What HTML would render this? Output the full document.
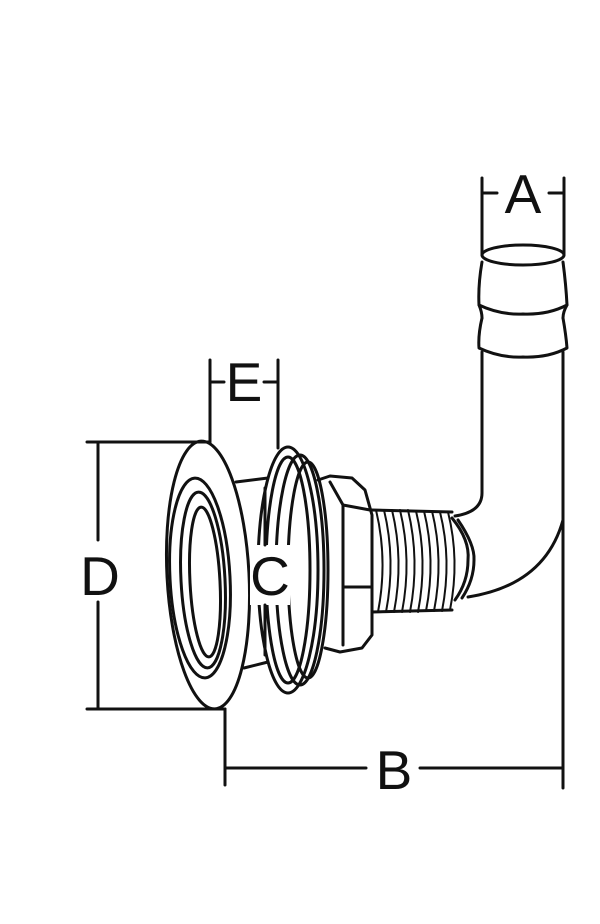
<!DOCTYPE html>
<html><head><meta charset="utf-8"><style>
html,body{margin:0;padding:0;background:#fff;}
svg{display:block}
text{font-family:"Liberation Sans",sans-serif;font-size:55px;fill:#111;text-anchor:middle}
</style></head><body>
<svg width="600" height="924" viewBox="0 0 600 924" xmlns="http://www.w3.org/2000/svg">
<g fill="none" stroke="#111" stroke-width="3" stroke-linecap="round" stroke-linejoin="round">
<!-- A dimension -->
<line x1="482" y1="178" x2="482" y2="255"/>
<line x1="564" y1="178" x2="564" y2="255"/>
<line x1="482" y1="193" x2="497" y2="193"/>
<line x1="549" y1="193" x2="564" y2="193"/>
<!-- hose barb -->
<ellipse cx="523" cy="255" rx="41" ry="10"/>
<path d="M482 262 Q478 285 479 305 Q500 315 523 314 Q548 315 567 305 Q566 285 563 262"/>
<path d="M482 318 Q478 335 479 348 Q500 358 523 357 Q548 358 567 348 Q566 335 563 318"/>
<path d="M479 305 Q482 312 482 318 M567 305 Q563 312 563 318"/>
<!-- pipe -->
<path d="M482 352 L482 493 Q482 512 455 516"/>
<path d="M563 352 L563 788"/>
<path d="M563 520 Q545 585 468 597"/>
<!-- thread end ring -->
<path d="M452 518 Q470 540 468 560 Q468 582 455 600"/>
<path d="M458 520 Q475 545 474 560 Q474 580 462 598"/>
<!-- threads -->
<path d="M372 510 L452 512 M372 612 L452 610"/>
<g stroke-width="2">
<path d="M376 510 Q388 560 378 612"/><path d="M384 510 Q396 560 386 612"/><path d="M392 510 Q404 560 394 612"/>
<path d="M400 510 Q412 560 402 612"/><path d="M408 510 Q420 560 410 612"/><path d="M416 511 Q428 560 418 612"/>
<path d="M424 511 Q436 560 426 611"/><path d="M432 511 Q444 560 434 611"/><path d="M440 512 Q452 560 442 611"/>
<path d="M448 512 Q460 560 450 610"/>
</g>
<!-- hex nut -->
<path d="M318 480 L330 476 L352 478 L365 490 L372 515 L372 635 L362 648 L340 652 L325 648"/>
<path d="M330 482 L343 505 L343 645"/>
<path d="M343 505 L370 510"/>
<path d="M343 587 L372 587"/>
<!-- washer rings -->
<ellipse cx="288" cy="570" rx="30" ry="123"/>
<ellipse cx="288" cy="570" rx="22" ry="113"/>
<ellipse cx="300" cy="570" rx="24" ry="115"/>
<ellipse cx="308" cy="570" rx="20" ry="108"/>
<!-- body cylinder -->
<path d="M236 482 L268 478"/>
<path d="M244 668 L268 662"/>
<!-- flange -->
<ellipse cx="208" cy="575" rx="41" ry="134" transform="rotate(-3 208 575)"/>
<ellipse cx="200" cy="578" rx="30" ry="100" transform="rotate(-3 200 578)"/>
<ellipse cx="203" cy="580" rx="22" ry="88" transform="rotate(-3 203 580)"/>
<ellipse cx="205" cy="582" rx="15" ry="75" transform="rotate(-3 205 582)"/>
<!-- E dimension -->
<line x1="210" y1="360" x2="210" y2="442"/>
<line x1="278" y1="360" x2="278" y2="448"/>
<line x1="210" y1="382" x2="224" y2="382"/>
<line x1="264" y1="382" x2="278" y2="382"/>
<!-- D dimension -->
<line x1="87" y1="442" x2="210" y2="442"/>
<line x1="87" y1="709" x2="225" y2="709"/>
<line x1="98" y1="442" x2="98" y2="540"/>
<line x1="98" y1="602" x2="98" y2="709"/>
<!-- B -->
<line x1="225" y1="709" x2="225" y2="785"/>
<line x1="225" y1="768" x2="366" y2="768"/>
<line x1="420" y1="768" x2="563" y2="768"/>
</g>
<rect x="250" y="545" width="40" height="60" fill="#fff"/>
<g stroke="#111" stroke-width="3" stroke-linecap="round">
<line x1="265" y1="488" x2="265" y2="545"/>
<line x1="265" y1="605" x2="265" y2="655"/>
</g>
<text x="523" y="213">A</text>
<text x="244" y="401">E</text>
<text x="100" y="595">D</text>
<text x="270" y="595">C</text>
<text x="394" y="789">B</text>
</svg>
</body></html>
